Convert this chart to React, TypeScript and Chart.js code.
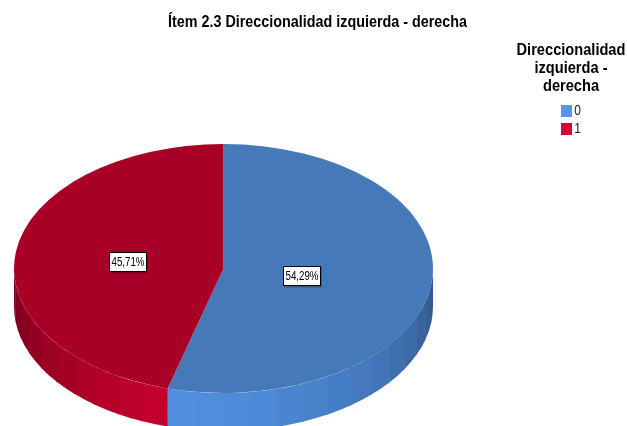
import React, { useEffect, useRef } from "react";
import { Chart, registerables } from "chart.js";

Chart.register(...registerables);

const chartTitle = "Ítem 2.3 Direccionalidad izquierda - derecha";
const legendTitle = ["Direccionalidad", "izquierda -", "derecha"];
const categories = ["0", "1"];
const percentages = [54.29, 45.71];
const percentLabels = ["54,29%", "45,71%"];
const topColors = ["#4679b8", "#a90028"];
const legendColors = ["#5b96e2", "#d9003a"];
const wallColors = [
  [80, 143, 224],
  [198, 0, 46],
];
const wallFalloff = [0.32, 0.5];
const wallCurve = [1.6, 1.1];

const CENTER_X = 223.5;
const CENTER_Y = 268.5;
const RADIUS = 209.5;
const SQUASH = 0.594;
const DEPTH = 38;
const TEXT_SQUEEZE = 0.86;
const LEGEND_LEFT = 557;
const LEGEND_WIDTH = 28;
const LEGEND_TEXT_RIGHT = 581;
const LEGEND_TOP = 41.5;
const labelRadii = [0.38, 0.46];

const pie3d = {
  id: "pie3d",
  afterLayout(chart: any) {
    const lg = chart.legend;
    const height = lg._computeTitleHeight() + lg.options.labels.padding + lg.columnSizes[0].height;
    lg.left = LEGEND_LEFT;
    lg.width = LEGEND_WIDTH;
    lg.right = LEGEND_TEXT_RIGHT;
    lg.top = LEGEND_TOP;
    lg.bottom = LEGEND_TOP + height;
    lg.height = height;
    // the legend title is wider than its column of items: draw it without the box clip
    lg.draw = () => lg._draw();
  },
  beforeDraw(chart: any) {
    const ctx = chart.ctx;
    if (!ctx.__squeezed) {
      const original = ctx.fillText.bind(ctx);
      ctx.fillText = (text: string, x: number, y: number) => {
        ctx.save();
        ctx.translate(x, y);
        ctx.scale(TEXT_SQUEEZE, 1);
        original(text, 0, 0);
        ctx.restore();
      };
      ctx.__squeezed = true;
    }
  },
  beforeDatasetsDraw(chart: any) {
    const ctx = chart.ctx;
    const arcs = chart.getDatasetMeta(0).data;
    const step = (7.5 * Math.PI) / 180;
    const ry = RADIUS * SQUASH;
    const peak = (105 * Math.PI) / 180;
    ctx.save();
    arcs.forEach((arc: any, i: number) => {
      const from = Math.max(arc.startAngle, 0);
      const to = Math.min(arc.endAngle, Math.PI);
      for (let k = Math.floor(from / step); k * step < to; k++) {
        const a = Math.max(k * step, from);
        const b = Math.min((k + 1) * step, to);
        if (b <= a) continue;
        const m = (a + b) / 2;
        const t = 1 - wallFalloff[i] * Math.pow(Math.abs(m - peak) / (Math.PI / 2), wallCurve[i]);
        const c = wallColors[i].map((v) => Math.round(v * t));
        ctx.fillStyle = `rgb(${c[0]},${c[1]},${c[2]})`;
        ctx.beginPath();
        const end = Math.min(b + 0.01, to);
        ctx.ellipse(CENTER_X, CENTER_Y, RADIUS, ry, 0, a, end);
        ctx.ellipse(CENTER_X, CENTER_Y + DEPTH, RADIUS, ry, 0, end, a, true);
        ctx.closePath();
        ctx.fill();
      }
    });
    const el = arcs[0];
    ctx.translate(CENTER_X, CENTER_Y);
    ctx.scale(1, SQUASH);
    ctx.translate(-el.x, -el.y);
  },
  afterDatasetsDraw(chart: any) {
    const ctx = chart.ctx;
    ctx.restore();
    const arcs = chart.getDatasetMeta(0).data;
    ctx.save();
    ctx.font = '13px "Liberation Sans"';
    ctx.textAlign = "center";
    ctx.textBaseline = "middle";
    arcs.forEach((arc: any, i: number) => {
      const mid = (arc.startAngle + arc.endAngle) / 2;
      const r = RADIUS * labelRadii[i];
      const x = Math.round(CENTER_X + r * Math.cos(mid));
      const y = Math.round(CENTER_Y + r * SQUASH * Math.sin(mid)) + 1;
      ctx.fillStyle = "rgba(0,0,0,0.25)";
      ctx.fillRect(x - 18, y - 8.5, 38, 20);
      ctx.fillStyle = "#ffffff";
      ctx.fillRect(x - 18.5, y - 9.5, 37, 19);
      ctx.strokeStyle = "#000000";
      ctx.lineWidth = 1;
      ctx.strokeRect(x - 18.5, y - 9.5, 37, 19);
      ctx.fillStyle = "#000000";
      ctx.save();
      ctx.translate(x, y + 0.5);
      ctx.scale(0.87, 1);
      ctx.fillText(percentLabels[i], 0, 0);
      ctx.restore();
    });
    ctx.restore();
  },
};

export default function App() {
  const ref = useRef<HTMLCanvasElement>(null);
  useEffect(() => {
    const chart = new Chart(ref.current as HTMLCanvasElement, {
      type: "pie",
      plugins: [pie3d],
      data: {
        labels: categories,
        datasets: [
          {
            data: percentages,
            backgroundColor: topColors,
            borderWidth: 0,
            clip: false,
          } as any,
        ],
      },
      options: {
        responsive: false,
        animation: false,
        radius: RADIUS,
        layout: { padding: { left: 49, right: 41, top: 0, bottom: 0 } },
        plugins: {
          tooltip: { enabled: false },
          title: {
            display: true,
            text: chartTitle,
            color: "#000000",
            font: { family: '"Liberation Sans"', size: 16.7, weight: "bold", lineHeight: 1.2 },
            padding: { top: 12, bottom: 11 },
          },
          legend: {
            display: true,
            position: "right",
            align: "center",
            title: {
              display: true,
              text: legendTitle,
              color: "#000000",
              font: { family: '"Liberation Sans"', size: 17, weight: "bold", lineHeight: 1.06 },
              padding: { top: 0, bottom: 40.5 },
            },
            labels: {
              boxWidth: 11,
              boxHeight: 12,
              padding: 4,
              color: "#222222",
              textAlign: "right",
              font: { family: '"Liberation Sans"', size: 14 },
              generateLabels(c: any) {
                const items = (Chart as any).overrides.pie.plugins.legend.labels.generateLabels(c);
                return items.map((it: any, i: number) => ({
                  ...it,
                  fillStyle: legendColors[i],
                  strokeStyle: legendColors[i],
                  lineWidth: 0,
                  textAlign: "right",
                }));
              },
            },
          },
        },
      } as any,
    });
    return () => chart.destroy();
  }, []);
  return (
    <div style={{ position: "fixed", left: 0, top: 0, width: 627, height: 426, background: "#fff" }}>
      <canvas ref={ref} width={627} height={426} style={{ display: "block" }} />
    </div>
  );
}
